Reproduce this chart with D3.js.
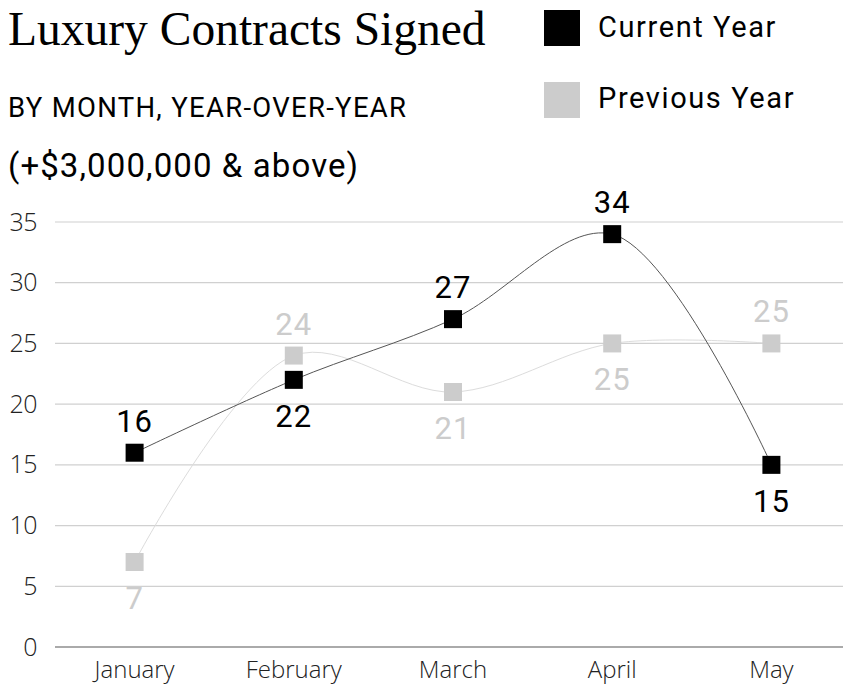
<!DOCTYPE html>
<html><head><meta charset="utf-8">
<script src="https://cdn.jsdelivr.net/npm/d3@7"></script>
<style>
html,body{margin:0;padding:0;background:#fff;}
svg{display:block;}
</style></head>
<body>
<script>
const months = ["January","February","March","April","May"];
const currentYear = [16,22,27,34,15];
const previousYear = [7,24,21,25,25];
const yTicks = [0,5,10,15,20,25,30,35];
const currentLabelPos = ["above","below","above","above","below"];
const previousLabelPos = ["below","above","below","below","above"];
const seriesNames = ["Current Year","Previous Year"];

const W = 843, H = 687;
const svg = d3.select("body").append("svg").attr("width",W).attr("height",H);

const x = d3.scaleBand().domain(months).range([55,851]);
const y = d3.scaleLinear().domain([0,35]).range([647,222]);
const cx = m => x(m) + x.bandwidth()/2;

// titles
svg.append("text").attr("x",8).attr("y",45)
  .style("font-family","'Liberation Serif', serif").style("font-size","47.5px").attr("fill","#000")
  .text("Luxury Contracts Signed");
svg.append("text").attr("x",8).attr("y",117)
  .style("font-family","Roboto").style("font-size","27.5px").style("letter-spacing","1.3px").attr("fill","#000")
  .text("BY MONTH, YEAR-OVER-YEAR");
svg.append("text").attr("x",8).attr("y",177)
  .style("font-family","Roboto").style("font-size","33px").style("letter-spacing","1.1px").attr("fill","#000")
  .text("(+$3,000,000 & above)");

// legend
const legColors = ["#000","#cccccc"];
seriesNames.forEach((n,i)=>{
  svg.append("rect").attr("x",544).attr("y",10+i*72).attr("width",36).attr("height",36).attr("fill",legColors[i]);
  svg.append("text").attr("x",598).attr("y",37+i*71)
    .style("font-family","Roboto").style("font-size","29px").style("letter-spacing","1.6px").attr("fill","#000")
    .text(n);
});

// grid
const grid = svg.append("g");
yTicks.forEach(t=>{
  grid.append("line").attr("x1",55).attr("x2",851).attr("y1",y(t)).attr("y2",y(t))
    .attr("stroke", t===0 ? "#aaa" : "#d0d0d0").attr("stroke-width", t===0 ? 2 : 1.2);
});

// y axis
const yAxis = svg.append("g").attr("transform","translate(37,0)")
  .call(d3.axisLeft(y).tickValues(yTicks).tickSize(0).tickPadding(0));
yAxis.select(".domain").remove();
yAxis.selectAll("text").style("font-family","'Open Sans'").style("font-weight","300")
  .style("font-size","25px").style("letter-spacing","-0.5px").attr("fill","#222");

// x axis
const xAxis = svg.append("g").attr("transform","translate(0,653)")
  .call(d3.axisBottom(x).tickSize(0).tickPadding(0));
xAxis.select(".domain").remove();
xAxis.selectAll("text").attr("dy","1.05em").style("font-family","'Open Sans'").style("font-weight","300")
  .style("font-size","24px").attr("fill","#222");

const line = d3.line().x((d,i)=>cx(months[i])).y(d=>y(d)).curve(d3.curveCatmullRom.alpha(0.5));

function drawSeries(vals, lineColor, markColor, labelColor, pos){
  svg.append("path").datum(vals).attr("d",line).attr("fill","none")
    .attr("stroke",lineColor).attr("stroke-width",1);
  svg.append("g").selectAll("rect").data(vals).join("rect")
    .attr("x",(d,i)=>cx(months[i])-9).attr("y",d=>y(d)-9)
    .attr("width",18).attr("height",18).attr("fill",markColor);
  svg.append("g").selectAll("text").data(vals).join("text")
    .attr("x",(d,i)=>cx(months[i])).attr("y",(d,i)=> pos[i]==="above" ? y(d)-21 : y(d)+47)
    .attr("text-anchor","middle")
    .style("font-family","Roboto").style("font-size","31px").style("letter-spacing","1px").attr("fill",labelColor)
    .text(d=>d);
}
drawSeries(previousYear, "#dcdcdc", "#cccccc", "#cccccc", previousLabelPos);
drawSeries(currentYear, "#555", "#000", "#000", currentLabelPos);
</script>
</body></html>
